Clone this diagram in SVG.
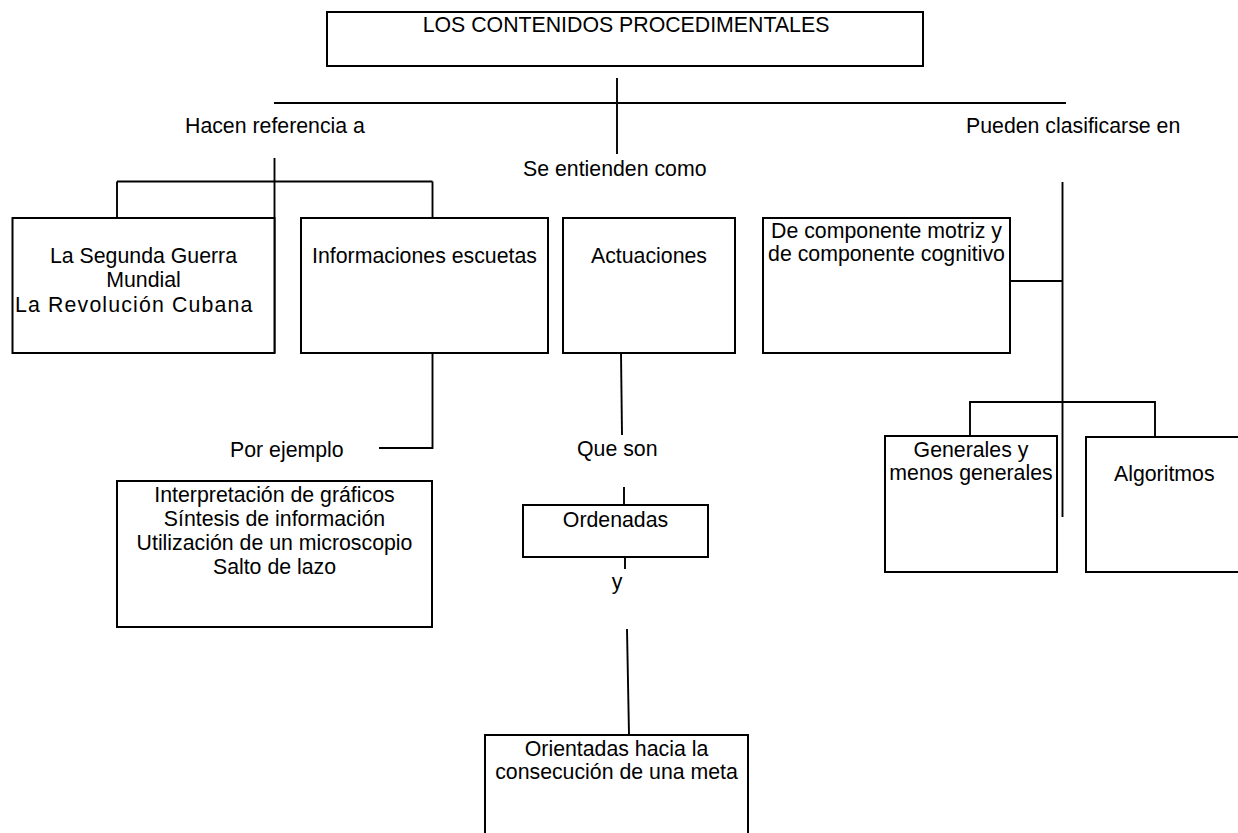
<svg xmlns="http://www.w3.org/2000/svg" width="1238" height="833" viewBox="0 0 1238 833">
<style>
  .box { fill: #fff; stroke: #000; stroke-width: 2; }
  .ln { stroke: #000; stroke-width: 1.9; fill: none; }
  text { font-family: "Liberation Sans", Arial, sans-serif; font-size: 21.3px; fill: #000; }
  .c { text-anchor: middle; }
</style>
<rect width="1238" height="833" fill="#fff"/>
<g id="connectors">
  <line class="ln" x1="617" y1="78" x2="617" y2="154"/>
  <line class="ln" x1="274" y1="103" x2="1066" y2="103"/>
  <line class="ln" x1="274.5" y1="158" x2="274.5" y2="353"/>
  <line class="ln" x1="117" y1="181.5" x2="432.5" y2="181.5"/>
  <line class="ln" x1="117" y1="181.5" x2="117" y2="218"/>
  <line class="ln" x1="432.5" y1="181.5" x2="432.5" y2="218"/>
  <polyline class="ln" points="432.5,353 432.5,448 379,448"/>
  <line class="ln" x1="621" y1="353" x2="622" y2="435"/>
  <line class="ln" x1="624" y1="487" x2="624" y2="505"/>
  <line class="ln" x1="625" y1="557" x2="625" y2="569"/>
  <line class="ln" x1="627" y1="629" x2="629" y2="735"/>
  <line class="ln" x1="1010" y1="281" x2="1062.5" y2="281"/>
  <line class="ln" x1="1062.5" y1="182" x2="1062.5" y2="517"/>
  <polyline class="ln" points="970,436 970,402 1155,402 1155,437"/>
</g>
<g id="labels">
  <text x="185" y="133">Hacen referencia a</text>
  <text x="523" y="176">Se entienden como</text>
  <text x="966" y="133">Pueden clasificarse en</text>
  <text x="230" y="457">Por ejemplo</text>
  <text x="577" y="456">Que son</text>
  <text x="617" y="589" class="c">y</text>
</g>
<g id="node-root">
  <rect class="box" x="327" y="12" width="596" height="54"/>
  <text x="626" y="32" class="c">LOS CONTENIDOS PROCEDIMENTALES</text>
</g>
<g id="node-guerra">
  <rect class="box" x="12.5" y="218" width="262" height="135"/>
  <text x="143.5" y="263" class="c">La Segunda Guerra</text>
  <text x="143.5" y="287" class="c">Mundial</text>
  <text x="15" y="312" letter-spacing="1.15">La Revolución Cubana</text>
</g>
<g id="node-informaciones">
  <rect class="box" x="301" y="218" width="247" height="135"/>
  <text x="424.5" y="263" class="c">Informaciones escuetas</text>
</g>
<g id="node-actuaciones">
  <rect class="box" x="563" y="218" width="172" height="135"/>
  <text x="649" y="263" class="c">Actuaciones</text>
</g>
<g id="node-componente">
  <rect class="box" x="763" y="218" width="247" height="135"/>
  <text x="886.5" y="238" class="c">De componente motriz y</text>
  <text x="886.5" y="261" class="c">de componente cognitivo</text>
</g>
<g id="node-ejemplos">
  <rect class="box" x="117" y="481" width="315" height="146"/>
  <text x="274.5" y="502" class="c">Interpretación de gráficos</text>
  <text x="274.5" y="526" class="c">Síntesis de información</text>
  <text x="274.5" y="550" class="c">Utilización de un microscopio</text>
  <text x="274.5" y="574" class="c">Salto de lazo</text>
</g>
<g id="node-ordenadas">
  <rect class="box" x="523" y="505" width="185" height="52"/>
  <text x="615.5" y="527" class="c">Ordenadas</text>
</g>
<g id="node-generales">
  <rect class="box" x="885" y="436" width="172" height="136"/>
  <text x="971" y="457" class="c">Generales y</text>
  <text x="971" y="480" class="c">menos generales</text>
</g>
<g id="node-algoritmos">
  <rect class="box" x="1086" y="437" width="160" height="135"/>
  <text x="1114" y="481">Algoritmos</text>
</g>
<g id="node-orientadas">
  <rect class="box" x="485" y="735" width="263" height="110"/>
  <text x="616.5" y="756" class="c">Orientadas hacia la</text>
  <text x="616.5" y="779" class="c">consecución de una meta</text>
</g>
</svg>
